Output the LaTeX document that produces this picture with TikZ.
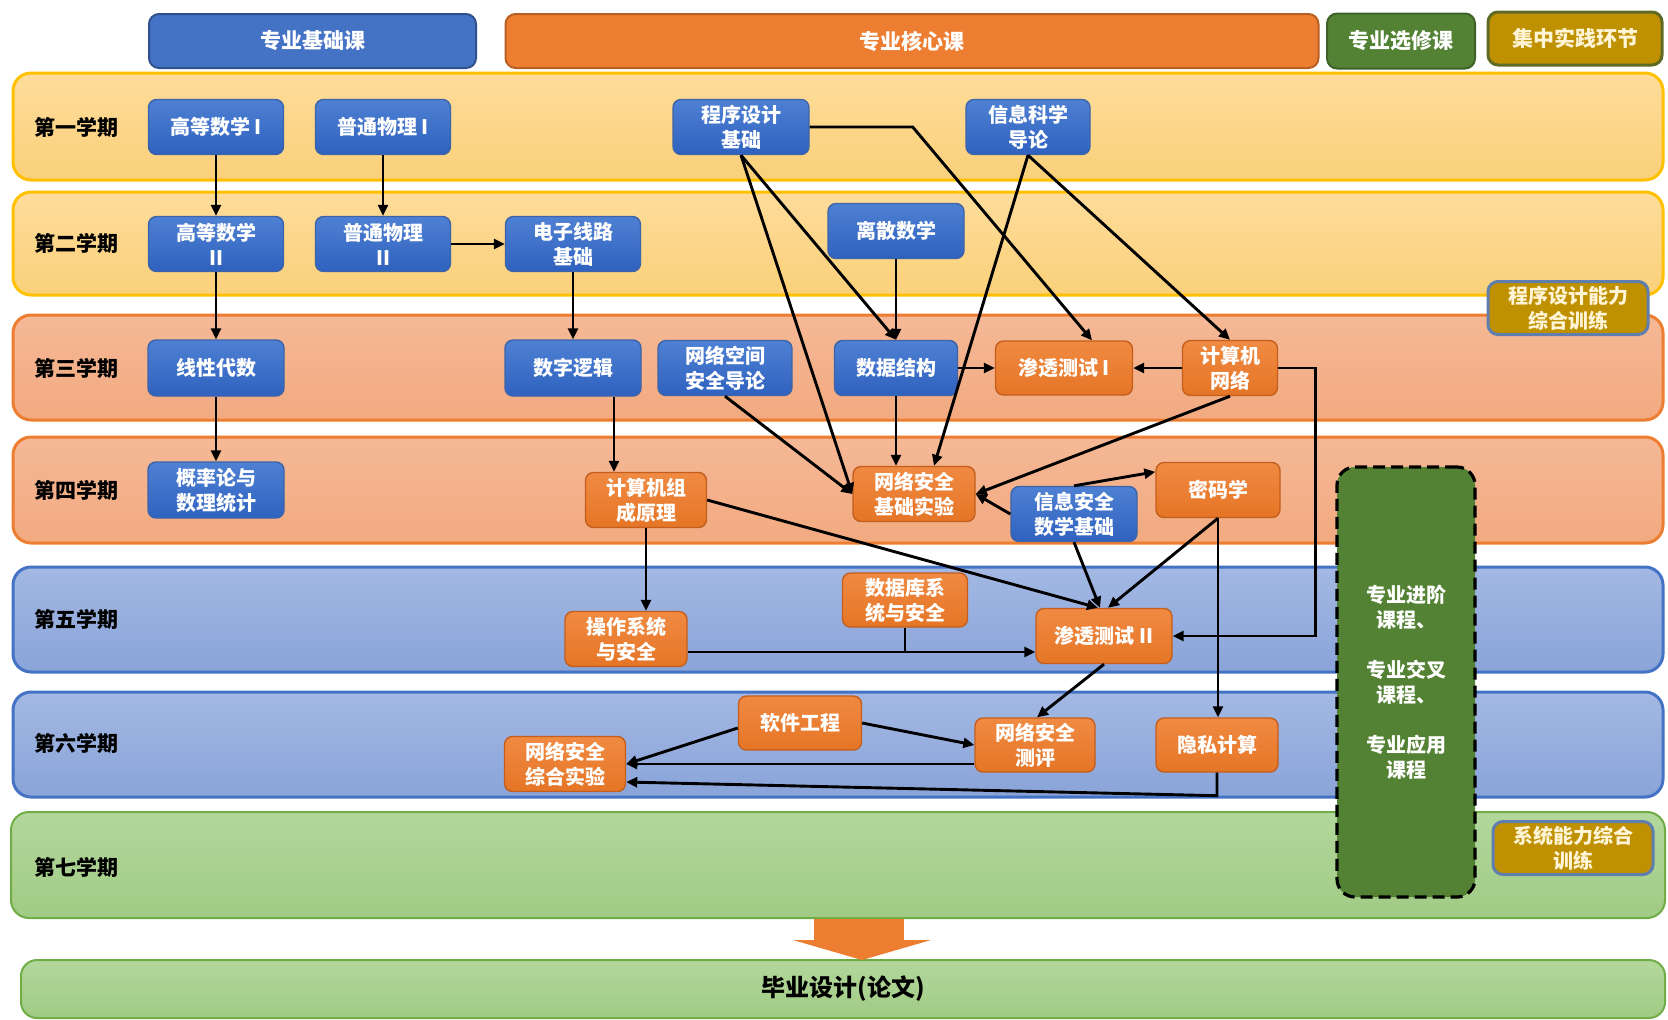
\documentclass[tikz,border=0pt]{standalone}
\usepackage{fontspec}
\setmainfont{Noto Sans CJK SC}
\usetikzlibrary{arrows.meta,calc}
\definecolor{bluetop}{HTML}{4E80D3}
\definecolor{bluebot}{HTML}{2F62BF}
\definecolor{bluebd}{HTML}{3D64A8}
\definecolor{orgtop}{HTML}{F08A42}
\definecolor{orgbot}{HTML}{E57526}
\definecolor{orgbd}{HTML}{C45E1C}
\definecolor{hblue}{HTML}{4472C4}
\definecolor{hbluebd}{HTML}{2F528F}
\definecolor{horange}{HTML}{ED7D31}
\definecolor{horangebd}{HTML}{B85F24}
\definecolor{hgreen}{HTML}{548235}
\definecolor{hgreenbd}{HTML}{3E6228}
\definecolor{hgold}{HTML}{BF9000}
\definecolor{hgoldbd}{HTML}{5F6A25}
\definecolor{pracbd}{HTML}{5F7EAE}
\definecolor{yelltop}{HTML}{FEDC9A}
\definecolor{yellbot}{HTML}{FAD07A}
\definecolor{yellbd}{HTML}{FFC000}
\definecolor{salmtop}{HTML}{F5B896}
\definecolor{salmbot}{HTML}{F2AA80}
\definecolor{salmbd}{HTML}{ED7D31}
\definecolor{bltop}{HTML}{A3B8E3}
\definecolor{blbot}{HTML}{8AA4D9}
\definecolor{blbd}{HTML}{4472C4}
\definecolor{grtop}{HTML}{B3D79C}
\definecolor{grbot}{HTML}{A0CB84}
\definecolor{grbd}{HTML}{70AD47}
\definecolor{cream}{HTML}{FFF5D6}
\begin{document}
\begin{tikzpicture}[x=0.5pt,y=-0.5pt,
  wh/.style 2 args={minimum width=#1*0.5pt, minimum height=#2*0.5pt},
  band/.style={rounded corners=9pt, line width=1.5pt},
  ybandst/.style={band, draw=yellbd, top color=yelltop, bottom color=yellbot},
  sbandst/.style={band, draw=salmbd, top color=salmtop, bottom color=salmbot},
  bbandst/.style={band, draw=blbd, top color=bltop, bottom color=blbot},
  gbandst/.style={band, line width=1pt, draw=grbd, top color=grtop, bottom color=grbot},
  sem/.style={font=\fontsize{10.5}{12}\selectfont\bfseries, text=black, inner sep=0pt},
  box/.style={rounded corners=4pt, line width=0.7pt, text=white, align=center, inner sep=0pt,
    font=\fontsize{10}{12.5}\selectfont\bfseries},
  bnode/.style={box, draw=bluebd, top color=bluetop, bottom color=bluebot},
  onode/.style={box, draw=orgbd, top color=orgtop, bottom color=orgbot},
  hdr/.style={rounded corners=5pt, line width=1pt, text=white, inner sep=0pt,
    font=\fontsize{10.5}{12}\selectfont\bfseries},
  prac/.style={rounded corners=5pt, line width=1.5pt, draw=pracbd, fill=hgold, text=cream,
    align=center, inner sep=0pt, font=\fontsize{10}{12.5}\selectfont\bfseries},
  arr/.style={-{Triangle[length=5.5pt,width=5pt]}, line width=1.45pt, black},
  ln/.style={line width=1.45pt, black}
]
\useasboundingbox (0,0) rectangle (1668,1019);
% semester bands
\path[ybandst] (13,73) rectangle (1663,180);
\path[ybandst] (13,192) rectangle (1663,295);
\path[sbandst] (13,315) rectangle (1663,420);
\path[sbandst] (13,437) rectangle (1663,543);
\path[bbandst] (13,567) rectangle (1663,672);
\path[bbandst] (13,692) rectangle (1663,797);
\path[gbandst] (11,812) rectangle (1665,918);
% final band and arrow
\node[gbandst, rounded corners=8pt, wh={1644}{58}, font=\fontsize{12}{14}\selectfont\bfseries, text=black] (bs) at (843,989) {毕业设计(论文)};
\fill[horange] (814,919) rectangle (904,940);
\fill[horange] (793,940) -- (931,940) -- (862,960) -- cycle;
% headers
\node[hdr, fill=hblue, draw=hbluebd, wh={327}{54}] (h1) at (312.5,41) {专业基础课};
\node[hdr, fill=horange, draw=horangebd, wh={813}{54}] (h2) at (912,41) {专业核心课};
\node[hdr, fill=hgreen, draw=hgreenbd, wh={148}{55}] (h3) at (1401,41) {专业选修课};
\node[hdr, fill=hgold, draw=hgoldbd, line width=1.5pt, text=cream, wh={174}{53}] (h4) at (1575,38.5) {集中实践环节};
% semester labels
\node[sem] (s1) at (76,127) {第一学期};
\node[sem] (s2) at (76,243) {第二学期};
\node[sem] (s3) at (76,368) {第三学期};
\node[sem] (s4) at (76,490) {第四学期};
\node[sem] (s5) at (76,619) {第五学期};
\node[sem] (s6) at (76,743) {第六学期};
\node[sem] (s7) at (76,867) {第七学期};
% electives and practice
\node[rounded corners=9pt, draw=black, dashed, dash pattern=on 6pt off 3pt, line width=1.6pt,
  fill=hgreen, text=white, align=center, inner sep=0pt, wh={138}{430},
  font=\fontsize{10}{12.5}\selectfont\bfseries] (el) at (1406,682)
  {专业进阶\\课程、\\[12.5pt]专业交叉\\课程、\\[12.5pt]专业应用\\课程};
\node[prac, wh={160}{53}] (p1) at (1568,308) {程序设计能力\\综合训练};
\node[prac, wh={160}{53}] (p2) at (1573,848) {系统能力综合\\训练};
% course nodes
\node[bnode, wh={135}{55}] (gs1) at (216,127) {高等数学 I};
\node[bnode, wh={135}{55}] (wl1) at (383,127) {普通物理 I};
\node[bnode, wh={136}{55}] (cx) at (741,127) {程序设计\\基础};
\node[bnode, wh={124}{55}] (xx) at (1028,127) {信息科学\\导论};
\node[bnode, wh={135}{55}] (gs2) at (216,244) {高等数学\\II};
\node[bnode, wh={135}{55}] (wl2) at (383,244) {普通物理\\II};
\node[bnode, wh={135}{55}] (dz) at (573,244) {电子线路\\基础};
\node[bnode, wh={136}{55}] (ls) at (896,231) {离散数学};
\node[bnode, wh={136}{56}] (xd) at (216,368) {线性代数};
\node[bnode, wh={136}{56}] (sz) at (573,368) {数字逻辑};
\node[bnode, wh={134}{55}] (wk) at (725,368) {网络空间\\安全导论};
\node[bnode, wh={123}{55}] (sj) at (896,368) {数据结构};
\node[onode, wh={137}{54}] (st1) at (1064,368) {渗透测试 I};
\node[onode, wh={95}{55}] (jw) at (1230,368) {计算机\\网络};
\node[bnode, wh={136}{56}] (gl) at (216,490) {概率论与\\数理统计};
\node[onode, wh={121}{55}] (zc) at (646,500) {计算机组\\成原理};
\node[onode, wh={122}{55}] (jc) at (914,494) {网络安全\\基础实验};
\node[bnode, wh={126}{55}] (xa) at (1074,514) {信息安全\\数学基础};
\node[onode, wh={124}{55}] (mm) at (1218,490) {密码学};
\node[onode, wh={125}{54}] (db) at (905,600) {数据库系\\统与安全};
\node[onode, wh={122}{55}] (os) at (626,639) {操作系统\\与安全};
\node[onode, wh={136}{55}] (st2) at (1104,636) {渗透测试 II};
\node[onode, wh={123}{54}] (rg) at (800,723) {软件工程};
\node[onode, wh={120}{54}] (cp) at (1035,745) {网络安全\\测评};
\node[onode, wh={122}{54}] (ys) at (1217,745) {隐私计算};
\node[onode, wh={121}{55}] (zh) at (565,764) {网络安全\\综合实验};
% connectors
\draw[arr] (gs1.south) -- (gs2.north);
\draw[arr] (wl1.south) -- (wl2.north);
\draw[arr] (gs2.south) -- (xd.north);
\draw[arr] (xd.south) -- (gl.north);
\draw[arr] (wl2.east) -- (dz.west);
\draw[arr] (dz.south) -- (sz.north);
\draw[arr] ($(sz.south)+(41,0)$) -- ($(zc.north)+(-32,0)$);
\draw[arr] (zc.south) -- ($(os.north)+(20,0)$);
\draw[arr] (zc.east) -- ($(st2.north)+(-6,0)$);
\draw[arr] ($(os.east)+(0,13)$) -- ($(st2.west)+(0,16)$);
\draw[ln] (db.south) -- ($(db.south)+(0,25)$);
\draw[arr] (cx.east) -- ++(103,0) -- ($(st1.north)+(28,0)$);
\draw[arr] (cx.south) -- (jc.west);
\draw[arr] (cx.south) -- (sj.north);
\draw[arr] (ls.south) -- (sj.north);
\draw[arr] (sj.south) -- (sj.south |- jc.north);
\draw[arr] (sj.east) -- (st1.west);
\draw[arr] (jw.west) -- (st1.east);
\draw[arr] (xx.south) -- ($(jc.north)+(20,0)$);
\draw[arr] (xx.south) -- (jw.north);
\draw[arr] (wk.south) -- (jc.west);
\draw[arr] (jw.south) -- (jc.east);
\draw[arr] (xa.west) -- (jc.east);
\draw[arr] (xa.north) -- ($(mm.north west)+(0,10)$);
\draw[arr] (xa.south) -- ($(st2.north)+(-4,0)$);
\draw[arr] (mm.south) -- ($(st2.north)+(4,0)$);
\draw[arr] (mm.south) -- (mm.south |- ys.north);
\draw[arr] (jw.east) -- ++(37,0) |- (st2.east);
\draw[arr] (st2.south) -- ($(cp.north)+(2,0)$);
\draw[arr] (rg.east) -- (cp.west);
\draw[arr] ($(rg.west)+(0,5)$) -- (zh.east);
\draw[arr] ($(cp.west)+(0,19)$) -- (zh.east);
\draw[arr] (ys.south) -- ++(0,23) -- ($(zh.east)+(0,18)$);
\end{tikzpicture}
\end{document}
